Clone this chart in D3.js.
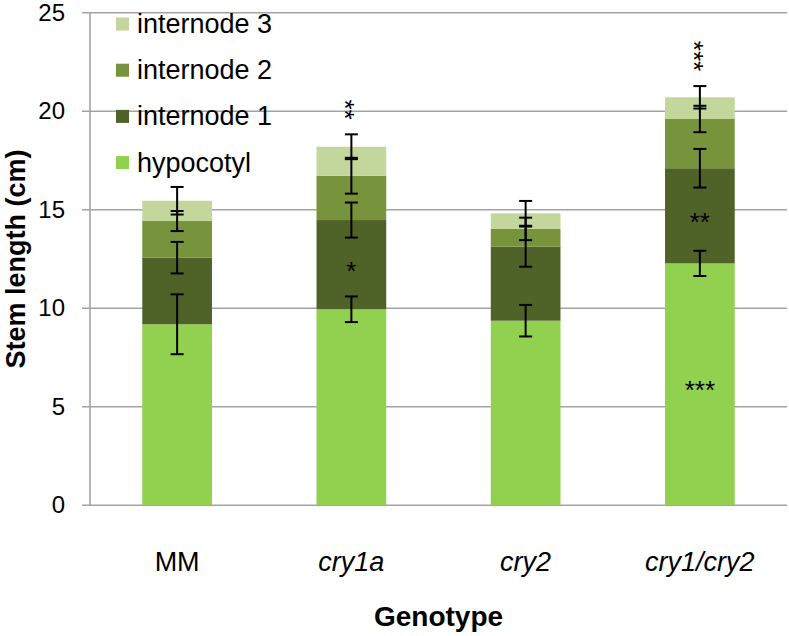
<!DOCTYPE html>
<html><head><meta charset="utf-8">
<script src="https://cdn.jsdelivr.net/npm/d3@7"></script>
<style>body{margin:0;background:#fff}svg{display:block;font-family:"Liberation Sans",Arial,sans-serif}</style>
</head><body><svg id="c" width="789" height="636"></svg>
<script>
const categories = ["MM", "cry1a", "cry2", "cry1/cry2"];
const italicCats = [false, true, true, true];
const seriesNames = ["hypocotyl", "internode 1", "internode 2", "internode 3"];
const seriesColors = ["#92d050", "#4f6228", "#77933c", "#c3d69b"];
// segment lengths (cm)
const hypocotyl  = [9.19, 9.95, 9.37, 12.28];
const internode1 = [3.38, 4.53, 3.76, 4.83];
const internode2 = [1.86, 2.25, 0.90, 2.50];
const internode3 = [1.03, 1.47, 0.79, 1.10];
// error bar half-lengths
const errHypocotyl  = [1.52, 0.65, 0.80, 0.64];
const errInternode1 = [0.80, 0.89, 1.02, 0.98];
const errInternode2 = [0.51, 0.91, 0.57, 0.67];
const errInternode3 = [0.70, 0.63, 0.63, 0.57];
const yTicks = [0, 5, 10, 15, 20, 25];
// significance marks: category, y value (cm), text, vertical
const marks = [
  {cat: "cry1a", v: 20.09, t: "**", vertical: true},
  {cat: "cry1a", v: 12.2, t: "*", vertical: false},
  {cat: "cry1/cry2", v: 22.81, t: "***", vertical: true},
  {cat: "cry1/cry2", v: 14.7, t: "**", vertical: false},
  {cat: "cry1/cry2", v: 6.14, t: "***", vertical: false}
];

const svg = d3.select("#c");
const pLeft = 90, pRight = 787, pTop = 12.8, pBottom = 505.3;
const x = d3.scaleBand().domain(categories).range([pLeft, pRight]).paddingInner(0.6).paddingOuter(0.3);
const y = d3.scaleLinear().domain([0, 25]).range([pBottom, pTop]);

const segs = [hypocotyl, internode1, internode2, internode3];
const errs = [errHypocotyl, errInternode1, errInternode2, errInternode3];
const table = categories.map((c, i) => {
  const o = {cat: c};
  seriesNames.forEach((s, k) => o[s] = segs[k][i]);
  return o;
});
const stack = d3.stack().keys(seriesNames)(table);

// gridlines
svg.append("g").selectAll("line").data(yTicks).join("line")
  .attr("x1", pLeft - 8).attr("x2", pRight).attr("y1", d => y(d)).attr("y2", d => y(d))
  .attr("stroke", "#a3a3a3").attr("stroke-width", 1.6);
// y axis line
svg.append("line").attr("x1", pLeft).attr("x2", pLeft).attr("y1", y(25)).attr("y2", y(0))
  .attr("stroke", "#a3a3a3").attr("stroke-width", 1.6);
// tick labels
const yAxis = svg.append("g").attr("transform", `translate(${pLeft},0)`)
  .call(d3.axisLeft(y).tickValues(yTicks).tickSize(0).tickPadding(25));
yAxis.select(".domain").remove();
yAxis.selectAll("text").attr("font-size", 24).attr("fill", "#000")
  .attr("font-family", '"Liberation Sans",Arial,sans-serif');

// bars
svg.append("g").selectAll("g").data(stack).join("g")
  .attr("fill", (d, k) => seriesColors[k])
  .selectAll("rect").data(d => d).join("rect")
  .attr("x", d => x(d.data.cat)).attr("width", x.bandwidth())
  .attr("y", d => y(d[1])).attr("height", d => y(d[0]) - y(d[1]));

// error bars
const eb = [];
stack.forEach((s, k) => s.forEach((d, i) => eb.push({cat: d.data.cat, v: d[1], e: errs[k][i]})));
const ebg = svg.append("g").attr("stroke", "#000").attr("stroke-width", 2);
eb.forEach(d => {
  const cx = x(d.cat) + x.bandwidth() / 2;
  ebg.append("line").attr("x1", cx).attr("x2", cx).attr("y1", y(d.v + d.e)).attr("y2", y(d.v - d.e));
  [d.v + d.e, d.v - d.e].forEach(v => ebg.append("line")
    .attr("x1", cx - 6.5).attr("x2", cx + 6.5).attr("y1", y(v)).attr("y2", y(v)));
});

// significance marks
const fsStar = 26;
marks.forEach(m => {
  const cx = x(m.cat) + x.bandwidth() / 2;
  const g = svg.append("g").attr("transform", `translate(${cx},${y(m.v)})`);
  const t = g.append("text").attr("text-anchor", "middle").attr("font-size", fsStar)
    .attr("fill", "#000").attr("dy", (0.58 * fsStar) + "px").text(m.t);
  if (m.vertical) t.attr("transform", "rotate(90)");
});

// category labels
svg.append("g").selectAll("text").data(categories).join("text")
  .attr("x", d => x(d) + x.bandwidth() / 2).attr("y", 571)
  .attr("text-anchor", "middle").attr("font-size", 27)
  .attr("font-style", (d, i) => italicCats[i] ? "italic" : "normal").text(d => d);

// axis titles
svg.append("text").attr("x", (pLeft + pRight) / 2).attr("y", 626).attr("text-anchor", "middle")
  .attr("font-size", 28).attr("font-weight", "bold").text("Genotype");
svg.append("text").attr("transform", `translate(25,${(pTop + pBottom) / 2}) rotate(-90)`)
  .attr("text-anchor", "middle").attr("font-size", 27).attr("font-weight", "bold").text("Stem length (cm)");

// legend
const legendOrder = [3, 2, 1, 0];
const lg = svg.append("g");
legendOrder.forEach((k, r) => {
  const cy = 24 + r * 46.2;
  lg.append("rect").attr("x", 116).attr("y", cy - 6.5).attr("width", 13).attr("height", 13).attr("fill", seriesColors[k]);
  lg.append("text").attr("x", 137).attr("y", cy + 9).attr("font-size", 27).text(seriesNames[k]);
});
</script></body></html>
